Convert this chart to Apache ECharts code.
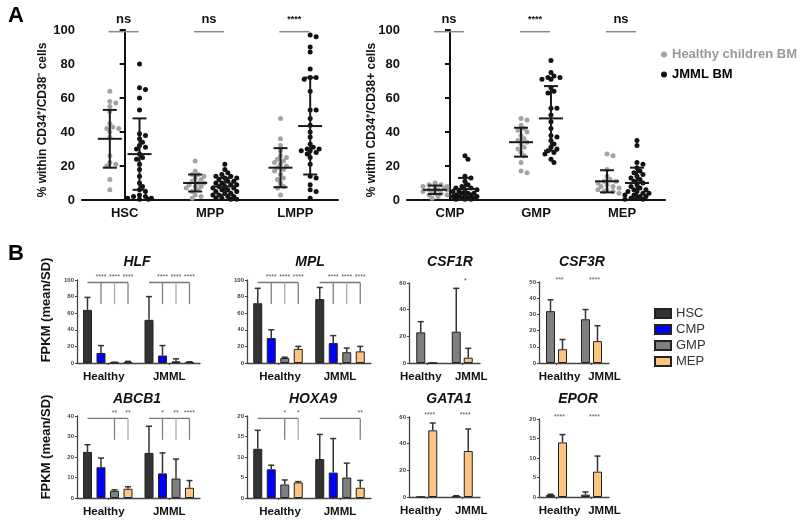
<!DOCTYPE html>
<html>
<head>
<meta charset="utf-8">
<script src="https://cdn.jsdelivr.net/npm/echarts@6/dist/echarts.min.js"></script>
<style>
  html, body { margin: 0; padding: 0; background: #fff; }
  #chart { width: 800px; height: 527px; }
</style>
</head>
<body>
<div id="chart"></div>
<script>
const FONT = 'Liberation Sans, Arial, sans-serif'

// ---------- panel A : % of progenitors (dot plots) ----------
const catsA1 = ['HSC', 'MPP', 'LMPP']
const catsA2 = ['CMP', 'GMP', 'MEP']
const sigA1 = ['ns', 'ns', '****']
const sigA2 = ['ns', '****', 'ns']

const hscHealthy = [64, 58, 57, 55, 52, 45, 43, 42, 42, 40, 37, 26, 22, 21, 20, 12, 6]
const hscJmml = [80, 66, 65, 60, 53, 39, 38, 36, 34, 32, 31, 30, 27, 25, 24, 21, 18, 14, 10, 8, 6, 5, 3, 2, 2, 1, 1, 0.5, 0.5]
const mppHealthy = [23, 17, 15, 15, 14, 13, 12, 11, 10, 10, 9, 8, 8, 7, 6, 5, 3, 2, 1]
const mppJmml = [21, 18, 16, 15, 14, 14, 13, 13, 12, 11, 11, 10, 10, 9, 9, 8, 8, 7, 7, 6, 6, 5, 5, 4, 4, 3, 3, 2, 2, 1, 1, 0.5, 0.5]
const lmppHealthy = [48, 36, 32, 29, 26, 25, 24, 23, 22, 21, 20, 19, 18, 17, 15, 13, 12, 10, 8, 7, 3]
const lmppJmml = [97, 96, 90, 87, 77, 72, 72, 71, 64, 53, 53, 48, 44, 40, 37, 33, 31, 30, 30, 29, 29, 28, 27, 25, 21, 14, 13, 9, 6, 5, 1]
const cmpHealthy = [10, 9, 9, 8, 8, 7, 7, 6, 6, 6, 5, 5, 4, 4, 3, 3, 2, 1]
const cmpJmml = [26, 24, 14, 13, 11, 9, 8, 7, 7, 6, 6, 5, 5, 4, 4, 4, 3, 3, 3, 2, 2, 2, 1, 1, 1, 0.5, 0.5, 0.5]
const gmpHealthy = [48, 47, 44, 42, 41, 40, 38, 36, 35, 34, 33, 31, 30, 28, 26, 22, 17, 16]
const gmpJmml = [82, 75, 73, 72, 72, 71, 71, 66, 64, 63, 54, 54, 50, 46, 42, 38, 37, 35, 33, 31, 30, 29, 28, 27, 24, 22]
const mepHealthy = [27, 26, 18, 14, 12, 11, 11, 10, 9, 8, 8, 7, 6, 6, 5, 5, 4]
const mepJmml = [35, 32, 22, 21, 19, 17, 16, 15, 14, 13, 12, 11, 10, 9, 8, 7, 6, 6, 5, 5, 4, 4, 3, 3, 2, 2, 1, 1, 0.5, 0.5]

const meanA1Healthy = [36, 10, 19]
const sdA1Healthy = [17, 5, 11.5]
const meanA1Jmml = [27, 8, 43.5]
const sdA1Jmml = [21, 5, 28.5]
const meanA2Healthy = [6, 34, 11]
const sdA2Healthy = [2.5, 8.5, 6.5]
const meanA2Jmml = [6.5, 48, 10]
const sdA2Jmml = [6.5, 19, 9]

// ---------- panel B : FPKM bars (mean / SD), [Healthy, JMML] per cell type ----------
const groupsB = ['Healthy', 'JMML']
const cellsAll = ['HSC', 'CMP', 'GMP', 'MEP']
const cellsTwo = ['GMP', 'MEP']

const hlfMean = [[64, 52], [12, 9], [0.5, 2], [1, 1]]
const hlfSd = [[15, 28], [9, 12], [0.5, 3], [1, 0.5]]
const mplMean = [[72, 77], [30, 24], [6, 13], [17, 14]]
const mplSd = [[18, 14], [10, 9], [1, 5], [3, 6]]
const csf1rMean = [[23, 23.5], [0, 4]]
const csf1rSd = [[8, 32.5], [0, 7]]
const csf3rMean = [[32, 27], [8.5, 13.5]]
const csf3rSd = [[7, 6], [6, 9.5]]
const abcb1Mean = [[22.5, 22], [15, 12], [3.5, 9.5], [4.5, 5]]
const abcb1Sd = [[3.5, 13], [4.5, 10], [0.5, 9.5], [1, 3.5]]
const hoxa9Mean = [[12, 9.5], [7, 6.2], [3.3, 5], [3.8, 2.5]]
const hoxa9Sd = [[4.5, 6], [1, 8.3], [1.1, 3.5], [0.2, 1.8]]
const gata1Mean = [[0, 0.8], [50, 34.5]]
const gata1Sd = [[0, 0.2], [5.5, 16.5]]
const eporMean = [[0.5, 0.6], [14, 6.5]]
const eporSd = [[0.2, 0.7], [2, 4]]

// brackets: [group, compared bars, stars]
const hlfSig = [[0, [1, 2, 3], ['****', '****', '****']], [1, [1, 2, 3], ['****', '****', '****']]]
const mplSig = [[0, [1, 2, 3], ['****', '****', '****']], [1, [1, 2, 3], ['****', '****', '****']]]
const abcb1Sig = [[0, [2, 3], ['**', '**']], [1, [1, 2, 3], ['*', '**', '****']]]
const hoxa9Sig = [[0, [2, 3], ['*', '*']], [1, [3], ['**']]]
// single comparisons GMP vs MEP: stars per group
const csf1rStars = ['', '*']
const csf3rStars = ['***', '****']
const gata1Stars = ['****', '****']
const eporStars = ['****', '****']

const cellColors = { HSC: '#333333', CMP: '#0000ff', GMP: '#7f7f7f', MEP: '#ffc382' }

const panelsB = [
  { title: 'HLF', cells: cellsAll, mean: hlfMean, sd: hlfSd, sig: hlfSig, max: 100, interval: 20, grid: { left: 77, top: 280, width: 123, height: 83 }, tx: 137, ty: 262, shift: [-4, 0] },
  { title: 'MPL', cells: cellsAll, mean: mplMean, sd: mplSd, sig: mplSig, max: 100, interval: 20, grid: { left: 247, top: 280, width: 124, height: 83 }, tx: 310, ty: 262, shift: [2, 0] },
  { title: 'CSF1R', cells: cellsTwo, mean: csf1rMean, sd: csf1rSd, stars: csf1rStars, max: 60, interval: 20, grid: { left: 409, top: 283, width: 71, height: 80 }, tx: 450, ty: 262, shift: [-6, 9] },
  { title: 'CSF3R', cells: cellsTwo, mean: csf3rMean, sd: csf3rSd, stars: csf3rStars, max: 50, interval: 10, grid: { left: 539, top: 282, width: 70, height: 81 }, tx: 582, ty: 262, shift: [3, 13] },
  { title: 'ABCB1', cells: cellsAll, mean: abcb1Mean, sd: abcb1Sd, sig: abcb1Sig, max: 40, interval: 10, grid: { left: 77, top: 416, width: 123, height: 82 }, tx: 137, ty: 399, shift: [-4, 0] },
  { title: 'HOXA9', cells: cellsAll, mean: hoxa9Mean, sd: hoxa9Sd, sig: hoxa9Sig, max: 20, interval: 5, grid: { left: 247, top: 416, width: 124, height: 82 }, tx: 313, ty: 399, shift: [2, 0] },
  { title: 'GATA1', cells: cellsTwo, mean: gata1Mean, sd: gata1Sd, stars: gata1Stars, max: 60, interval: 20, grid: { left: 409, top: 417, width: 71, height: 80 }, tx: 449, ty: 399, shift: [-6, 9] },
  { title: 'EPOR', cells: cellsTwo, mean: eporMean, sd: eporSd, stars: eporStars, max: 20, interval: 5, grid: { left: 539, top: 419, width: 70, height: 78 }, tx: 578, ty: 399, shift: [3, 13] }
]

// beeswarm-like spreading (like the prism dot plot), px units, max +-12px
function swarm(values, cat, side) {
  const placed = []
  values.slice().sort((a, b) => b - a).forEach(v => {
    const y = v * 1.7
    let best = 0
    let bestD = -1
    for (let k = 0; k < 9; k++) {
      const cand = (k % 2 ? 1 : -1) * Math.ceil(k / 2) * 3
      let dmin = Infinity
      placed.forEach(p => { dmin = Math.min(dmin, (p[0] - cand) ** 2 + (p[1] - y) ** 2) })
      if (dmin >= 16) { best = cand; bestD = dmin; break }
      if (dmin > bestD) { bestD = dmin; best = cand }
    }
    placed.push([best, y])
  })
  return placed.map(p => [cat + side * 0.174 + p[0] / 86, p[1] / 1.7])
}

function meanSdItem(params, api) {
  const x = api.value(0)
  const m = api.value(1)
  const sd = api.value(2)
  const c = api.coord([x, m])
  const t = api.coord([x, m + sd])
  const b = api.coord([x, Math.max(0, m - sd)])
  const st = { stroke: '#1a1a1a', lineWidth: 2 }
  return {
    type: 'group',
    children: [
      { type: 'line', shape: { x1: c[0] - 12, y1: c[1], x2: c[0] + 12, y2: c[1] }, style: st },
      { type: 'line', shape: { x1: c[0], y1: t[1], x2: c[0], y2: b[1] }, style: st },
      { type: 'line', shape: { x1: c[0] - 7, y1: t[1], x2: c[0] + 7, y2: t[1] }, style: st },
      { type: 'line', shape: { x1: c[0] - 7, y1: b[1], x2: c[0] + 7, y2: b[1] }, style: st }
    ]
  }
}

function sigAItem(labels) {
  return function(params, api) {
    const i = params.dataIndex
    const p = api.coord([i, 99])
    const stars = labels[i] !== 'ns'
    return {
      type: 'group',
      children: [
        { type: 'line', shape: { x1: p[0] - 16, y1: p[1], x2: p[0] + 14, y2: p[1] }, style: { stroke: '#888', lineWidth: 1.5 } },
        { type: 'text', x: p[0] - 1, y: p[1] - 12, style: { text: labels[i], font: 'bold ' + (stars ? 9 : 13) + 'px ' + FONT, fill: '#111', align: 'center', verticalAlign: 'middle' } }
      ]
    }
  }
}

const grids = []
const xAxes = []
const yAxes = []
const series = []

// panel A grids
const aGrids = [
  { grid: { left: 82, top: 30, width: 256, height: 170 }, cats: catsA1, sig: sigA1,
    healthy: [hscHealthy, mppHealthy, lmppHealthy], jmml: [hscJmml, mppJmml, lmppJmml],
    mH: meanA1Healthy, sH: sdA1Healthy, mJ: meanA1Jmml, sJ: sdA1Jmml },
  { grid: { left: 407, top: 30, width: 258, height: 170 }, cats: catsA2, sig: sigA2,
    healthy: [cmpHealthy, gmpHealthy, mepHealthy], jmml: [cmpJmml, gmpJmml, mepJmml],
    mH: meanA2Healthy, sH: sdA2Healthy, mJ: meanA2Jmml, sJ: sdA2Jmml }
]
aGrids.forEach((a, gi) => {
  grids.push(a.grid)
  const xc = xAxes.length
  xAxes.push({
    type: 'category', gridIndex: gi, data: a.cats,
    axisLine: { lineStyle: { color: '#111', width: 2 } },
    axisTick: { show: false },
    axisLabel: { color: '#111', fontFamily: FONT, fontWeight: 'bold', fontSize: 13, margin: 7 }
  })
  xAxes.push({ type: 'value', gridIndex: gi, min: -0.5, max: 2.5, show: false })
  yAxes.push({
    type: 'value', gridIndex: gi, min: 0, max: 100, interval: 20,
    axisLine: { show: true, lineStyle: { color: '#111', width: 2 } },
    axisTick: { show: true, length: 5, lineStyle: { color: '#111', width: 2 } },
    axisLabel: { color: '#111', fontFamily: FONT, fontWeight: 'bold', fontSize: 13, margin: 7 },
    splitLine: { show: false }
  })
  let hPts = []
  let jPts = []
  a.healthy.forEach((v, i) => { hPts = hPts.concat(swarm(v, i, -1)) })
  a.jmml.forEach((v, i) => { jPts = jPts.concat(swarm(v, i, 1)) })
  series.push({ name: 'Healthy children BM', type: 'scatter', xAxisIndex: xc + 1, yAxisIndex: gi, data: hPts, symbolSize: 5, itemStyle: { color: '#a3a3a3', opacity: 1 }, z: 2 })
  series.push({ name: 'JMML BM', type: 'scatter', xAxisIndex: xc + 1, yAxisIndex: gi, data: jPts, symbolSize: 5, itemStyle: { color: '#111', opacity: 1 }, z: 2 })
  const msd = []
  a.mH.forEach((m, i) => msd.push([i - 0.174, m, a.sH[i]]))
  a.mJ.forEach((m, i) => msd.push([i + 0.174, m, a.sJ[i]]))
  series.push({ type: 'custom', xAxisIndex: xc + 1, yAxisIndex: gi, data: msd, renderItem: meanSdItem, z: 5, silent: true })
  series.push({ type: 'custom', xAxisIndex: xc + 1, yAxisIndex: gi, data: a.sig.map((s, i) => [i, 99]), renderItem: sigAItem(a.sig), z: 5, silent: true })
})

// panel B grids
panelsB.forEach((p, k) => {
  const gi = grids.length
  grids.push(p.grid)
  const xi = xAxes.length
  const yi = yAxes.length
  const n = p.cells.length
  const barW = 9
  const gap = n === 4 ? 4.5 : 3
  // label nudges: padding on one side moves a centred label by half of it
  const labelData = groupsB.map((g, j) => {
    const s = p.shift[j]
    return { value: g, textStyle: { padding: s >= 0 ? [0, 0, 0, 2 * s] : [0, -2 * s, 0, 0] } }
  })
  xAxes.push({
    type: 'category', gridIndex: gi, data: labelData,
    axisLine: { lineStyle: { color: '#444', width: 1.3 } },
    axisTick: { show: true, alignWithLabel: true, length: 2, lineStyle: { color: '#444' } },
    axisLabel: { interval: 0, color: '#111', fontFamily: FONT, fontWeight: 'bold', fontSize: 11.5, margin: 8, hideOverlap: false }
  })
  yAxes.push({
    type: 'value', gridIndex: gi, min: 0, max: p.max, interval: p.interval,
    axisLine: { show: true, lineStyle: { color: '#444', width: 1.3 } },
    axisTick: { show: true, length: 2, lineStyle: { color: '#444' } },
    axisLabel: { color: '#444', fontFamily: FONT, fontWeight: 'bold', fontSize: 6, margin: 3 },
    splitLine: { show: false }
  })
  p.cells.forEach((c, i) => {
    series.push({
      name: c, type: 'bar', xAxisIndex: xi, yAxisIndex: yi, data: p.mean[i],
      barWidth: barW, barGap: (gap / barW * 100) + '%',
      itemStyle: { color: cellColors[c], borderColor: '#222', borderWidth: 1 }
    })
  })
  const err = []
  p.mean.forEach((row, i) => row.forEach((m, g) => err.push([g, m, p.sd[i][g], i])))
  series.push({
    type: 'custom', xAxisIndex: xi, yAxisIndex: yi, data: err, z: 4, silent: true,
    renderItem: function(params, api) {
      const g = api.value(0)
      const m = api.value(1)
      const sd = api.value(2)
      const i = api.value(3)
      const b = api.coord([g, m])
      const t = api.coord([g, m + sd])
      const x = b[0] + (i - (n - 1) / 2) * (barW + gap)
      const st = { stroke: '#333', lineWidth: 1.5 }
      return {
        type: 'group',
        children: [
          { type: 'line', shape: { x1: x, y1: b[1], x2: x, y2: t[1] }, style: st },
          { type: 'line', shape: { x1: x - 3, y1: t[1], x2: x + 3, y2: t[1] }, style: st }
        ]
      }
    }
  })
  if (p.sig) {
    series.push({
      type: 'custom', xAxisIndex: xi, yAxisIndex: yi, data: p.sig.map(s => [s[0], p.max]), z: 4, silent: true,
      renderItem: function(params, api) {
        const s = p.sig[params.dataIndex]
        const c = api.coord([s[0], p.max * 0.97])
        const d = api.coord([s[0], p.max * 0.71])
        const top = api.coord([s[0], p.max])
        const bx = i => c[0] + (i - (n - 1) / 2) * (barW + gap)
        const last = s[1][s[1].length - 1]
        const children = [{ type: 'line', shape: { x1: bx(0), y1: c[1], x2: bx(last), y2: c[1] }, style: { stroke: '#777', lineWidth: 1.3 } }]
        s[1].forEach((bi, j) => {
          children.push({ type: 'line', shape: { x1: bx(bi), y1: c[1], x2: bx(bi), y2: d[1] }, style: { stroke: j === 1 ? '#aaa' : '#808080', lineWidth: 1.3 } })
          children.push({ type: 'text', x: bx(bi), y: top[1] - 3, style: { text: s[2][j], font: '7px ' + FONT, fill: '#555', align: 'center', verticalAlign: 'middle' } })
        })
        return { type: 'group', children: children }
      }
    })
  } else {
    series.push({
      type: 'custom', xAxisIndex: xi, yAxisIndex: yi, data: p.stars.map((s, g) => [g, p.max]), z: 4, silent: true,
      renderItem: function(params, api) {
        const top = api.coord([params.dataIndex, p.max])
        return { type: 'text', x: top[0] + 3, y: top[1] - 2, style: { text: p.stars[params.dataIndex], font: '7px ' + FONT, fill: '#555', align: 'center', verticalAlign: 'middle' } }
      }
    })
  }
})

const graphics = [
  { type: 'text', x: 16, y: 16, style: { text: 'A', font: 'bold 22px ' + FONT, fill: '#000', align: 'center', verticalAlign: 'middle' } },
  { type: 'text', x: 16, y: 254, style: { text: 'B', font: 'bold 22px ' + FONT, fill: '#000', align: 'center', verticalAlign: 'middle' } },
  { type: 'text', x: 43, y: 120, rotation: Math.PI / 2, style: { text: '% within CD34⁺/CD38⁻ cells', font: 'bold 12px ' + FONT, fill: '#111', align: 'center', verticalAlign: 'middle' } },
  { type: 'text', x: 372, y: 120, rotation: Math.PI / 2, style: { text: '% withn CD34⁺/CD38+ cells', font: 'bold 12px ' + FONT, fill: '#111', align: 'center', verticalAlign: 'middle' } },
  { type: 'text', x: 46, y: 310, rotation: Math.PI / 2, style: { text: 'FPKM (mean/SD)', font: 'bold 13px ' + FONT, fill: '#111', align: 'center', verticalAlign: 'middle' } },
  { type: 'text', x: 46, y: 447, rotation: Math.PI / 2, style: { text: 'FPKM (mean/SD)', font: 'bold 13px ' + FONT, fill: '#111', align: 'center', verticalAlign: 'middle' } }
]
panelsB.forEach(p => {
  graphics.push({ type: 'text', x: p.tx, y: p.ty, style: { text: p.title, font: 'italic bold 14px ' + FONT, fill: '#111', align: 'center', verticalAlign: 'middle' } })
})

const chart = echarts.init(document.getElementById('chart'))
chart.setOption({
  animation: false,
  backgroundColor: '#fff',
  legend: [
    {
      orient: 'vertical', left: 656, top: 43, itemWidth: 6, itemHeight: 6, itemGap: 7, icon: 'circle',
      textStyle: { fontFamily: FONT, fontWeight: 'bold', fontSize: 13 },
      data: [
        { name: 'Healthy children BM', textStyle: { color: '#999' } },
        { name: 'JMML BM', textStyle: { color: '#000' } }
      ],
      selectedMode: false
    },
    {
      orient: 'vertical', left: 649, top: 302, itemWidth: 16, itemHeight: 9, itemGap: 3, icon: 'rect',
      textStyle: { fontFamily: FONT, fontSize: 13, color: '#333' },
      data: cellsAll,
      selectedMode: false
    }
  ],
  grid: grids,
  xAxis: xAxes,
  yAxis: yAxes,
  series: series,
  graphic: graphics
})
</script>
</body>
</html>
